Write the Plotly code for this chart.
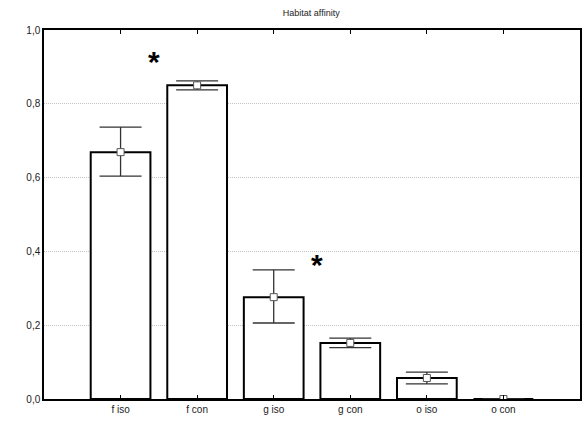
import plotly.graph_objects as go

categories = ["f iso", "f con", "g iso", "g con", "o iso", "o con"]
means = [0.669, 0.850, 0.276, 0.152, 0.057, 0.0]
err_upper = [0.737, 0.862, 0.350, 0.165, 0.073, 0.0]
err_lower = [0.604, 0.838, 0.206, 0.139, 0.041, 0.0]
star_x = [0.44, 2.57]
star_y = [0.915, 0.365]
y_ticks = [0.0, 0.2, 0.4, 0.6, 0.8, 1.0]
y_tick_labels = ["0,0", "0,2", "0,4", "0,6", "0,8", "1,0"]

plus = [u - m for u, m in zip(err_upper, means)]
minus = [m - l for m, l in zip(means, err_lower)]

fig = go.Figure()
fig.add_trace(go.Bar(
    x=categories, y=means, width=0.78,
    marker=dict(color="white", line=dict(color="black", width=2)),
    error_y=dict(type="data", symmetric=False, array=plus, arrayminus=minus,
                 color="#333333", thickness=1.3, width=21),
    hoverinfo="skip", showlegend=False,
))
fig.add_trace(go.Scatter(
    x=categories, y=means, mode="markers",
    marker=dict(symbol="square", size=7, color="white",
                line=dict(color="#555555", width=1)),
    showlegend=False, hoverinfo="skip",
))
for sx, sy in zip(star_x, star_y):
    fig.add_annotation(x=sx, y=sy, xref="x", yref="y", text="<b>*</b>",
                       showarrow=False, font=dict(size=30, color="black",
                                                  family="Liberation Sans, Arial"))

fig.update_layout(
    width=584, height=422,
    margin=dict(l=44, r=2, t=30, b=23),
    paper_bgcolor="white", plot_bgcolor="white",
    font=dict(family="Liberation Sans, Arial", size=10, color="#222222"),
    title=dict(text="Habitat affinity", x=0.533, xanchor="center", y=0.97,
               yanchor="middle", font=dict(size=9, color="#222222")),
    bargap=0.22,
)
fig.update_xaxes(
    range=[-1, 6], showline=True, linecolor="black", linewidth=1.5,
    mirror="ticks", ticks="inside", ticklen=4, tickcolor="black",
    showgrid=False, tickfont=dict(size=10),
)
fig.update_yaxes(
    range=[0, 1.0], showline=True, linecolor="black", linewidth=1.5,
    mirror=True, ticks="", tickvals=y_ticks, ticktext=y_tick_labels,
    showgrid=True, gridcolor="#c4c4c4", gridwidth=1, griddash="1px,1px",
    zeroline=False, tickfont=dict(size=10),
)
fig.write_html("out.html")
